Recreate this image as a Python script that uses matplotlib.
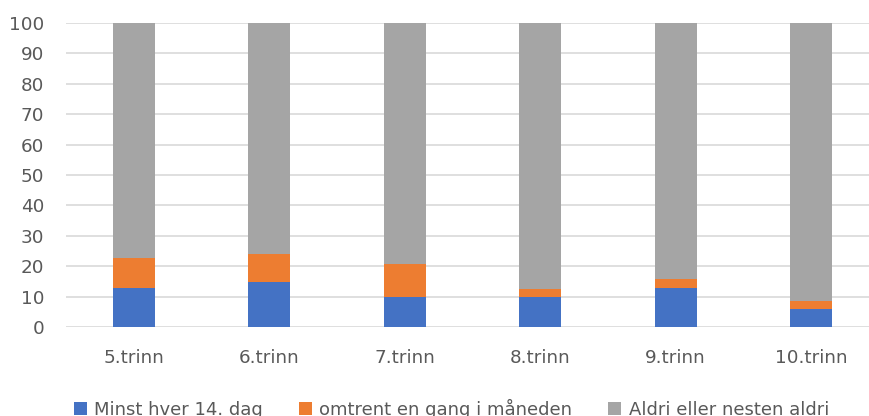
import matplotlib.pyplot as plt
import numpy as np

categories = ['5.trinn', '6.trinn', '7.trinn', '8.trinn', '9.trinn', '10.trinn']
minst = [12.7, 14.7, 9.8, 10.0, 12.7, 5.8]
omtrent = [10.0, 9.3, 10.9, 2.6, 3.2, 2.8]
aldri = [100 - a - b for a, b in zip(minst, omtrent)]
series_names = ['Minst hver 14. dag', 'omtrent en gang i måneden', 'Aldri eller nesten aldri']
colors = ['#4472c4', '#ed7d31', '#a5a5a5']

plt.rcParams['font.family'] = ['DejaVu Sans']

fig = plt.figure(figsize=(8.69, 4.16), dpi=100)
ax = fig.add_axes([66 / 869, 89 / 416, 803 / 869, 304 / 416])

x = np.arange(len(categories))
w = 0.31
ax.bar(x, minst, w, color=colors[0], label=series_names[0], zorder=3)
ax.bar(x, omtrent, w, bottom=minst, color=colors[1], label=series_names[1], zorder=3)
bottom2 = [a + b for a, b in zip(minst, omtrent)]
ax.bar(x, aldri, w, bottom=bottom2, color=colors[2], label=series_names[2], zorder=3)

ax.set_ylim(0, 100)
ax.set_xlim(-0.5, 5.5 - 10 / 135.6)
ax.set_yticks(range(0, 101, 10))
ax.set_xticks(x)
ax.set_xticklabels(categories)
ax.yaxis.grid(True, color='#d9d9d9', linewidth=1.2, zorder=0)
for s in ax.spines.values():
    s.set_visible(False)
ax.tick_params(axis='both', length=0, labelsize=13.2, colors='#595959')
ax.tick_params(axis='x', pad=15.5)
ax.tick_params(axis='y', pad=15.5)

fig.legend(loc='center left', bbox_to_anchor=(74 / 869, 7 / 416), ncol=3, frameon=False,
           fontsize=13, handlelength=0.72, handleheight=0.72, columnspacing=2.0,
           handletextpad=0.4, borderpad=0, borderaxespad=0, labelcolor='#595959')

fig.savefig('out.png', dpi=100)
